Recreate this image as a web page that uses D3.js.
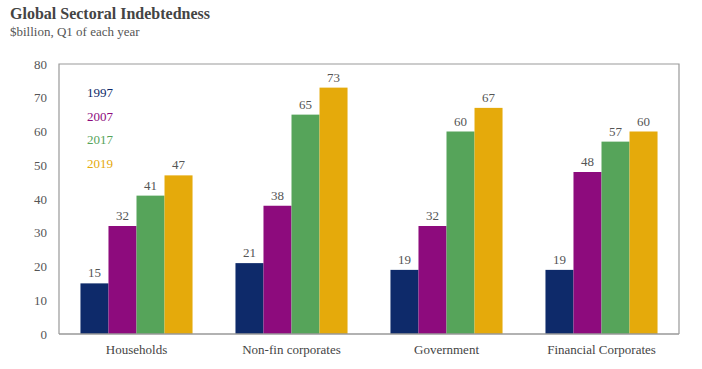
<!DOCTYPE html>
<html>
<head>
<meta charset="utf-8">
<script src="https://cdn.jsdelivr.net/npm/d3@7"></script>
<style>
  body { margin: 0; background: #fff; }
  svg { font-family: "Liberation Serif", "DejaVu Serif", serif; }
</style>
</head>
<body>
<div id="chart"></div>
<script>
// data
const sectors = ["Households", "Non-fin corporates", "Government", "Financial Corporates"];
const years = ["1997", "2007", "2017", "2019"];
const v1997 = [15, 21, 19, 19];
const v2007 = [32, 38, 32, 48];
const v2017 = [41, 65, 60, 57];
const v2019 = [47, 73, 67, 60];
const yTicks = [0, 10, 20, 30, 40, 50, 60, 70, 80];

const seriesValues = [v1997, v2007, v2017, v2019];
const colors = ["#0e2a6a", "#8d0b7d", "#56a45a", "#e5aa0b"];
const fontFam = "Liberation Serif, DejaVu Serif, serif";

const width = 702, height = 369;
const margin = { top: 64, right: 23, bottom: 35, left: 59 };

const svg = d3.select("#chart").append("svg")
  .attr("width", width)
  .attr("height", height);

// title
svg.append("text")
  .attr("x", 10).attr("y", 19)
  .attr("font-size", "16px").attr("font-weight", "bold")
  .attr("fill", "#444")
  .text("Global Sectoral Indebtedness");
svg.append("text")
  .attr("x", 10).attr("y", 36)
  .attr("font-size", "13px")
  .attr("fill", "#555")
  .text("$billion, Q1 of each year");

const x0 = d3.scaleBand()
  .domain(sectors)
  .range([margin.left, width - margin.right])
  .paddingInner(0.277)
  .paddingOuter(0.1385);

const x1 = d3.scaleBand()
  .domain(years)
  .range([0, x0.bandwidth()]);

const y = d3.scaleLinear()
  .domain([0, 80])
  .range([height - margin.bottom, margin.top]);

// frame (left, top, right)
svg.append("path")
  .attr("d", `M${margin.left},${y(0)}V${y(80)}H${width - margin.right}V${y(0)}`)
  .attr("stroke", "#999").attr("fill", "none")
  .attr("stroke-width", 1.2);

// bars
const groups = svg.append("g").selectAll("g")
  .data(sectors)
  .join("g")
  .attr("transform", d => `translate(${x0(d)},0)`);

const cells = (s, i) => years.map((yr, k) => ({ year: yr, k, value: seriesValues[k][i] }));

groups.selectAll("rect")
  .data(cells)
  .join("rect")
  .attr("x", d => x1(d.year))
  .attr("y", d => y(d.value))
  .attr("width", x1.bandwidth())
  .attr("height", d => y(0) - y(d.value))
  .attr("fill", d => colors[d.k]);

groups.selectAll("text")
  .data(cells)
  .join("text")
  .attr("x", d => x1(d.year) + x1.bandwidth() / 2)
  .attr("y", d => y(d.value) - 6)
  .attr("text-anchor", "middle")
  .attr("font-size", "13px")
  .attr("fill", "#555")
  .text(d => d.value);

// x axis line
svg.append("line")
  .attr("x1", margin.left).attr("x2", width - margin.right)
  .attr("y1", y(0)).attr("y2", y(0))
  .attr("stroke", "#999").attr("stroke-width", 1.5);

// y axis labels
const gy = svg.append("g")
  .attr("transform", `translate(${margin.left},0)`)
  .call(d3.axisLeft(y).tickValues(yTicks).tickSize(0).tickPadding(12));
gy.select(".domain").remove();
gy.selectAll("text")
  .attr("font-family", fontFam)
  .attr("font-size", "13px")
  .attr("fill", "#555");

// x axis labels
const gx = svg.append("g")
  .attr("transform", `translate(0,${y(0)})`)
  .call(d3.axisBottom(x0).tickSize(0).tickPadding(11));
gx.select(".domain").remove();
gx.selectAll("text")
  .attr("font-family", fontFam)
  .attr("font-size", "13px")
  .attr("fill", "#444");

// legend
svg.append("g").selectAll("text")
  .data(years)
  .join("text")
  .attr("x", 87)
  .attr("y", (d, i) => 97 + i * 23.5)
  .attr("font-size", "13px")
  .attr("fill", (d, i) => colors[i])
  .text(d => d);
</script>
</body>
</html>
